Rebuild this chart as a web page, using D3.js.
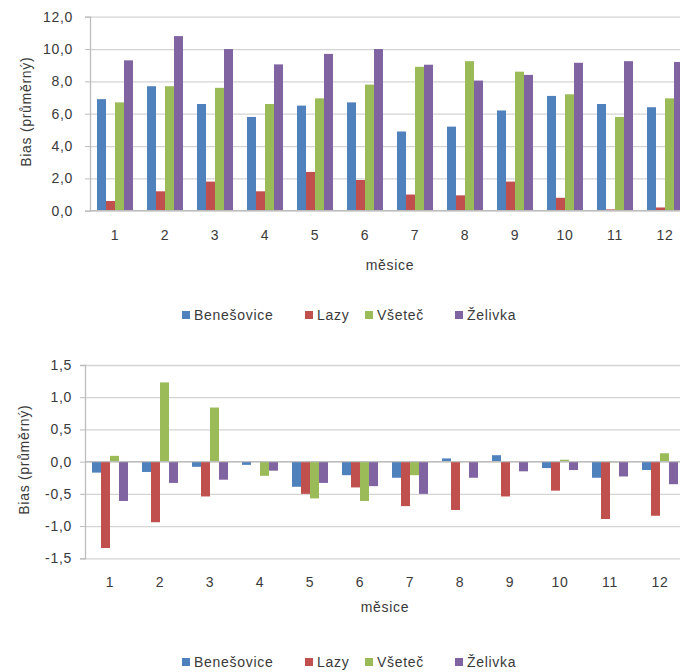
<!DOCTYPE html>
<html><head><meta charset="utf-8">
<script src="https://cdn.jsdelivr.net/npm/d3@7"></script>
<style>body{margin:0;background:#fff}svg{display:block}text{font-family:"Liberation Sans",Arial,sans-serif;fill:#3a3a3a}</style>
</head><body>
<script>
const months = ["1","2","3","4","5","6","7","8","9","10","11","12"];
const seriesNames = ["Benešovice","Lazy","Všeteč","Želivka"];
const colors = ["#4F81BD","#C0504D","#9BBB59","#8064A2"];
// top chart: mean bias
const topBenesovice = [6.9,7.7,6.6,5.8,6.5,6.7,4.9,5.2,6.2,7.1,6.6,6.4];
const topLazy       = [0.6,1.2,1.8,1.2,2.4,1.9,1.0,0.95,1.8,0.8,0.08,0.2];
const topVsetec     = [6.7,7.7,7.6,6.6,6.95,7.8,8.9,9.25,8.6,7.2,5.8,6.95];
const topZelivka    = [9.3,10.8,10.0,9.05,9.7,10.0,9.03,8.05,8.4,9.15,9.25,9.2];
const topTicks = [0,2,4,6,8,10,12];
// bottom chart: bias
const botBenesovice = [-0.17,-0.16,-0.08,-0.05,-0.39,-0.21,-0.25,0.05,0.10,-0.10,-0.25,-0.13];
const botLazy       = [-1.34,-0.94,-0.54,0.0,-0.50,-0.40,-0.69,-0.75,-0.54,-0.45,-0.89,-0.84];
const botVsetec     = [0.09,1.23,0.84,-0.22,-0.57,-0.61,-0.21,0.01,0.01,0.03,-0.01,0.13];
const botZelivka    = [-0.61,-0.33,-0.28,-0.14,-0.33,-0.38,-0.50,-0.25,-0.15,-0.13,-0.23,-0.35];
const botTicks = [-1.5,-1.0,-0.5,0,0.5,1.0,1.5];

const W = 680, H = 672;
const svg = d3.select("body").append("svg").attr("width", W).attr("height", H);
const fmt = v => d3.format(".1f")(v).replace("−", "-").replace(".", ",");
const FS = "14px", LS = "0.7px";

function styleText(sel){
  sel.style("font-size", FS).style("letter-spacing", LS).attr("fill", "#3a3a3a")
     .style("font-family", "Liberation Sans, Arial, sans-serif");
}

function chart(cfg){
  const g = svg.append("g");
  const x = d3.scaleBand().domain(months).range([cfg.left, cfg.left + 600]).paddingInner(0.28).paddingOuter(0.14);
  const x1 = d3.scaleBand().domain(seriesNames).range([0, x.bandwidth()]);
  const y = d3.scaleLinear().domain(cfg.domain).range([cfg.bottom, cfg.top]);
  // gridlines
  const grid = g.append("g").attr("transform", `translate(${cfg.left},0)`)
    .call(d3.axisLeft(y).tickValues(cfg.ticks).tickSize(-700).tickFormat(""));
  grid.select(".domain").remove();
  grid.selectAll("line").attr("stroke", "#D4D4D4").attr("stroke-width", 1.3);
  // y axis with ticks & labels
  const ya = g.append("g").attr("transform", `translate(${cfg.left},0)`)
    .call(d3.axisLeft(y).tickValues(cfg.ticks).tickSize(5).tickPadding(cfg.yPad).tickFormat(fmt));
  ya.select(".domain").attr("stroke", "#BDBDBD").attr("stroke-width", 1.3);
  ya.selectAll("line").attr("stroke", "#BDBDBD");
  styleText(ya.selectAll("text"));
  // bars
  const data = cfg.series;
  seriesNames.forEach((s, si) => {
    g.append("g").selectAll("rect").data(data[si]).join("rect")
      .attr("x", (d, i) => x(months[i]) + x1(s))
      .attr("width", x1.bandwidth())
      .attr("y", d => y(Math.max(0, d)))
      .attr("height", d => Math.abs(y(d) - y(0)))
      .attr("fill", colors[si]);
  });
  // category axis line at zero
  g.append("line").attr("x1", cfg.left).attr("x2", cfg.left + 700)
    .attr("y1", y(0)).attr("y2", y(0)).attr("stroke", "#BDBDBD").attr("stroke-width", 1.3);
  // x labels (low)
  const xa = g.append("g").attr("transform", `translate(0,${cfg.bottom})`)
    .call(d3.axisBottom(x).tickSize(0).tickPadding(cfg.labelPad));
  xa.select(".domain").remove();
  styleText(xa.selectAll("text"));
  // axis titles
  styleText(g.append("text").attr("x", cfg.left + 300).attr("y", cfg.xTitleY).attr("text-anchor", "middle")
    .text("měsice"));
  styleText(g.append("text").attr("transform", `translate(${cfg.yTitleX},${(cfg.top + cfg.bottom) / 2 - 2}) rotate(-90)`)
    .attr("text-anchor", "middle").attr("dy", "0.35em").text("Bias (průměrný)"));
  // legend
  const leg = g.append("g").attr("transform", `translate(0,${cfg.legendY})`);
  const lx = [182, 305, 365, 455];
  seriesNames.forEach((s, si) => {
    leg.append("rect").attr("x", lx[si]).attr("y", -4).attr("width", 8).attr("height", 8).attr("fill", colors[si]);
    styleText(leg.append("text").attr("x", lx[si] + 12).attr("y", 0).attr("dy", "0.35em").text(s));
  });
}

chart({left: 90, top: 16.7, bottom: 210.7, domain: [0, 12], ticks: topTicks, yPad: 12,
  series: [topBenesovice, topLazy, topVsetec, topZelivka], labelPad: 19, xTitleY: 270, yTitleX: 26, legendY: 315});
chart({left: 85, top: 365, bottom: 558.3, domain: [-1.5, 1.5], ticks: botTicks, yPad: 8,
  series: [botBenesovice, botLazy, botVsetec, botZelivka], labelPad: 19, xTitleY: 612, yTitleX: 24, legendY: 662});
</script>
</body></html>
